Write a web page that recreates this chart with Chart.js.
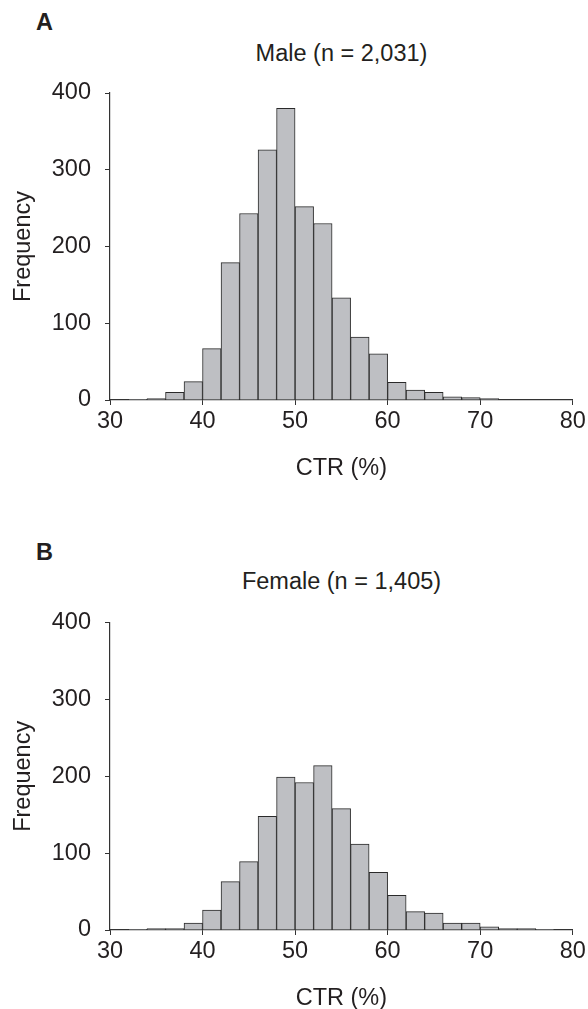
<!DOCTYPE html>
<html>
<head>
<meta charset="utf-8">
<script src="https://cdn.jsdelivr.net/npm/chart.js@4.4.0/dist/chart.umd.min.js"></script>
<style>
  html, body { margin: 0; padding: 0; background: #fff; overflow: hidden; }
  body { width: 588px; height: 1009px; position: relative; font-family: "Liberation Sans", Arial, sans-serif; color: #231f20; }
  canvas { position: absolute; left: 0; }
  .letter { position: absolute; left: 36px; font-weight: bold; font-size: 23.5px; line-height: 23.5px; }
  .title { position: absolute; left: 110px; width: 463px; text-align: center; font-size: 23.5px; line-height: 23.5px; }
</style>
</head>
<body>
<div class="letter" style="top:11px">A</div>
<div class="title" style="top:42px">Male (n = 2,031)</div>
<canvas id="male" width="588" height="483" style="top:0px"></canvas>

<div class="letter" style="top:541px">B</div>
<div class="title" style="top:570px">Female (n = 1,405)</div>
<canvas id="female" width="588" height="508" style="top:505px"></canvas>

<script>
// bin start values (2%-wide bins of CTR)
const maleBins = [32, 34, 36, 38, 40, 42, 44, 46, 48, 50, 52, 54, 56, 58, 60, 62, 64, 66, 68, 70];
const maleFreq = [1, 2, 10, 24, 67, 179, 243, 326, 380, 252, 230, 133, 82, 60, 23, 13, 10, 4, 3, 2];

const femaleBins = [32, 34, 36, 38, 40, 42, 44, 46, 48, 50, 52, 54, 56, 58, 60, 62, 64, 66, 68, 70, 72, 74, 76];
const femaleFreq = [1, 2, 2, 9, 26, 63, 89, 148, 199, 192, 214, 158, 112, 75, 45, 24, 22, 9, 9, 4, 2, 2, 1];

const binWidth = 2;
const xTicks = [30, 40, 50, 60, 70, 80];
const yTicks = [0, 100, 200, 300, 400];

const ink = '#231f20';
const FONT = 'Liberation Sans, Arial, sans-serif';

function makeHist(id, bins, freq, areaTop) {
    const ctx = document.getElementById(id).getContext('2d');
    return new Chart(ctx, {
        type: 'bar',
        data: {
            datasets: [{
                data: bins.map((b, i) => ({ x: b + binWidth / 2, y: freq[i] })),
                backgroundColor: '#bebfc3',
                borderColor: '#2a2a2a',
                borderWidth: 1,
                barPercentage: 1,
                categoryPercentage: 1
            }]
        },
        options: {
            responsive: false,
            animation: false,
            devicePixelRatio: 1,
            layout: { padding: { top: areaTop, right: 15.3, left: 0, bottom: 0 } },
            plugins: { legend: { display: false }, tooltip: { enabled: false } },
            scales: {
                x: {
                    type: 'linear',
                    offset: false,
                    min: xTicks[0],
                    max: xTicks[xTicks.length - 1],
                    afterBuildTicks: s => { s.ticks = xTicks.map(v => ({ value: v })); },
                    afterFit: s => { s.height = 83; },
                    grid: { offset: false, drawOnChartArea: false, drawTicks: true, tickLength: 5, color: '#333' },
                    border: { display: true, color: '#333', width: 1.2 },
                    ticks: { color: ink, font: { family: FONT, size: 23.5 }, padding: 2, maxRotation: 0 },
                    title: { display: true, text: 'CTR (%)', color: ink, font: { family: FONT, size: 23.5 }, padding: { top: 4, bottom: 0 } }
                },
                y: {
                    min: 0,
                    max: 400,
                    afterBuildTicks: s => { s.ticks = yTicks.map(v => ({ value: v })); },
                    afterFit: s => { s.width = 110; },
                    grid: { drawOnChartArea: false, drawTicks: true, tickLength: 5, color: '#333' },
                    border: { display: true, color: '#333', width: 1.2 },
                    ticks: { color: ink, font: { family: FONT, size: 23.5 }, padding: 14 },
                    title: { display: true, text: 'Frequency', color: ink, font: { family: FONT, size: 23.5 }, padding: { top: 9, bottom: 0 } }
                }
            }
        }
    });
}

makeHist('male', maleBins, maleFreq, 93);
makeHist('female', femaleBins, femaleFreq, 117.7);
</script>
</body>
</html>
